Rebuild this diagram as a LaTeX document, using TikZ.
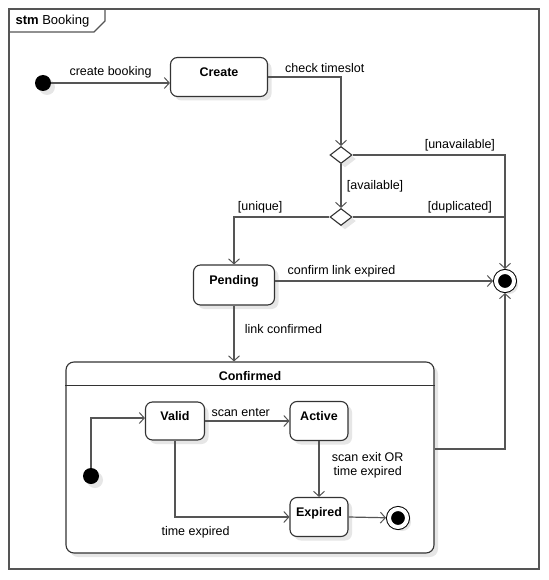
\documentclass[tikz,border=0pt]{standalone}
\usepackage{fontspec}
\setmainfont{Liberation Sans}
\usetikzlibrary{arrows.meta,shapes.geometric,shadows,positioning}
\definecolor{linegray}{RGB}{85,85,85}
\definecolor{shadowgray}{RGB}{230,230,230}

\begin{document}
\begin{tikzpicture}[x=1pt,y=-1pt,font=\fontsize{12.5}{14}\selectfont]

  % Definitions
  \tikzstyle{shade} = [drop shadow={shadow xshift=4pt, shadow yshift=-4pt, fill=shadowgray, opacity=1}]
  \tikzstyle{State} = [rectangle, rounded corners=7pt, minimum height=39pt, text height=9pt, text depth=10pt, inner sep=0pt, font=\fontsize{12.5}{14}\selectfont\bfseries, draw=black!80, fill=white, line width=1.1pt, shade]
  \tikzstyle{Composite} = [rectangle, rounded corners=8pt, draw=black!80, fill=white, line width=1.1pt, shade]
  \tikzstyle{Choice} = [diamond, minimum width=22pt, minimum height=17pt, inner sep=0pt, draw=black!80, fill=white, line width=1.1pt, shade]
  \tikzstyle{Start} = [circle, minimum size=16pt, inner sep=0pt, fill=black, shade]
  \tikzstyle{Stop} = [circle, minimum size=18pt, inner sep=0pt, fill=black, draw=black, line width=1pt, double=white, double distance=4pt, outer sep=3pt, shade]
  \tikzstyle{arrow} = [line width=1.2pt, draw=linegray, -{Straight Barb[length=5pt,width=11pt,line width=1pt]}]
  \tikzstyle{line} = [line width=1.2pt, draw=linegray]

  \useasboundingbox (0,0) rectangle (548,580);

  % frame
  \draw [line] (9,9) rectangle (539,569);
  \draw [line] (9,32) -- (94,32) -- (105,21) -- (105,9);
  \node (title) [anchor=west, font=\fontsize{13}{15}\selectfont] at (12,21) {\textbf{stm} Booking};

  % top level
  \node (start) [Start] at (43,83) {};
  \node (create) [State, minimum width=97pt] at (219,77) {Create};
  \node (check) [Choice] at (341,155) {};
  \node (unique) [Choice, below of=check, node distance=62pt] {};
  \node (pending) [State, minimum width=81pt, minimum height=40pt] at (234,285) {Pending};
  \node (stop) [Stop] at (505,281) {};
  \node (confirmed) [Composite, minimum width=368pt, minimum height=191pt] at (250,457.5) {};
  \node (conftitle) [font=\fontsize{12.5}{14}\selectfont\bfseries, below=6pt of confirmed.north] {Confirmed};
  \draw [line, draw=black!80, line width=1.1pt] ([yshift=-24pt]confirmed.north west) -- ([yshift=-24pt]confirmed.north east);

  % inside Confirmed
  \node (start2) [Start] at (91,476) {};
  \node (valid) [State, minimum width=59pt, minimum height=38pt] at (175,421) {Valid};
  \node (active) [State, minimum width=58pt, right of=valid, node distance=144pt] {Active};
  \node (expired) [State, minimum width=58pt, below of=active, node distance=96pt] {Expired};
  \node (stop2) [Stop] at (398,518) {};

  \draw [arrow] (start) -- (start -| create.west) node[pos=0.5, above, yshift=1pt] {create booking};
  \draw [arrow] (create.east) -| node[pos=0.09, anchor=south west] {check timeslot} (check.north);
  \draw [arrow] (check.east) -| node[pos=0.48, anchor=south east] {[unavailable]} (stop.north);
  \draw [arrow] (check.south) -- node[right, xshift=2pt] {[available]} (unique.north);
  \draw [line] (unique.east) -- node[pos=0.94, anchor=south east] {[duplicated]} (unique.east -| stop.north);
  \draw [arrow] (unique.west) -| node[pos=0.5, anchor=south west] {[unique]} (pending.north);
  \draw [arrow] (pending.east |- stop.west) -- node[pos=0.04, anchor=south west] {confirm link expired} (stop.west);
  \draw [arrow] (pending.south) -- node[right, xshift=7pt, yshift=4pt] {link confirmed} (pending.south |- confirmed.north);
  \draw [arrow] ([yshift=8.5pt]confirmed.east) -| (stop.south);

  \draw [arrow] (start2) |- ([yshift=3pt]valid.west);
  \draw [arrow] (valid.east) -- node[pos=0.03, anchor=south west] {scan enter} (active.west);
  \draw [arrow] (active.south) -- node[right, xshift=9pt, yshift=4pt, align=center] {scan exit OR\\time expired} (expired.north);
  \draw [arrow] (valid.south) |- node[pos=0.59, below, yshift=-6pt] {time expired} (expired.west);
  \draw [arrow] (expired.east) -- (stop2);

\end{tikzpicture}
\end{document}
